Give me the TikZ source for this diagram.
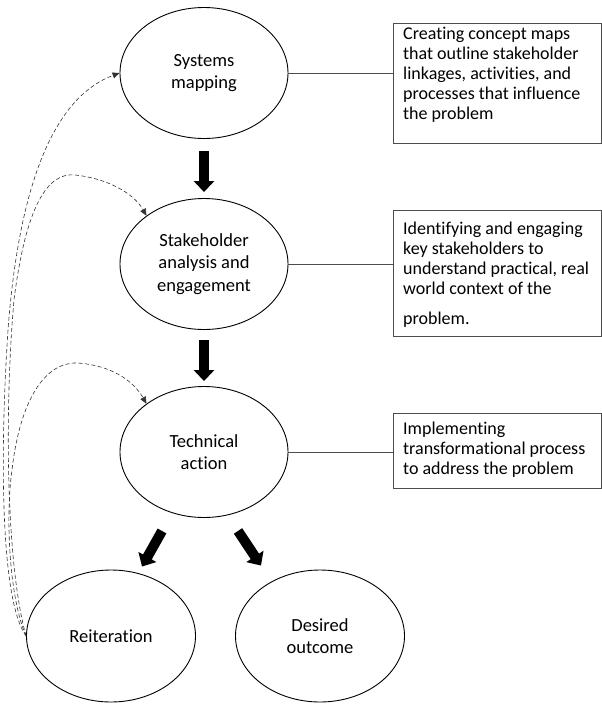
\documentclass[tikz,border=0pt]{standalone}
\usepackage{fontspec}
\setmainfont{Carlito}[Ligatures=NoCommon]
\usetikzlibrary{shapes.geometric,arrows.meta,calc}
\begin{document}
\begin{tikzpicture}[x=1pt,y=-1pt,
  stage/.style={ellipse,draw,line width=0.9pt,minimum width=168pt,minimum height=131pt,
    inner sep=0pt,align=center,font=\fontsize{18.5}{22.5}\selectfont},
  infobox/.style={draw=black!70,line width=0.8pt,anchor=north west,minimum width=208pt,inner sep=0pt},
  infotext/.style={anchor=north west,inner sep=0pt,align=left,font=\fontsize{18}{20}\selectfont},
  link/.style={draw=black!70,line width=0.8pt},
  flow/.style={line width=10pt,-{Triangle[width=20pt,length=11pt]}},
  loopback/.style={dash pattern=on 4pt off 2.5pt,line width=0.6pt,black!80,
    -{Triangle[width=6pt,length=7pt]}}]
\useasboundingbox (0,0) rectangle (602,705);

% process stages
\node[stage] (sm) at (204,73)  {Systems\\mapping};
\node[stage] (sa) at (204,264) {Stakeholder\\analysis and\\engagement};
\node[stage] (ta) at (204,452) {Technical\\action};
\node[stage,minimum width=169pt,minimum height=132pt] (re) at (111,636) {Reiteration};
\node[stage,minimum width=169pt,minimum height=132pt] (do) at (320,636) {Desired\\outcome};

% description boxes
\node[infobox,minimum height=120pt] (b1) at (393,23) {};
\node[infotext] (t1) at (403,27) {Creating concept maps\\that outline stakeholder\\linkages, activities, and\\processes that influence\\the problem};
\node[infobox,minimum height=126pt] (b2) at (393,210) {};
\node[infotext] (t2) at (403,222) {Identifying and engaging\\key stakeholders to\\understand practical, real\\world context of the\\[10pt]problem.};
\node[infobox,minimum height=75pt] (b3) at (393,413) {};
\node[infotext] (t3) at (403,422) {Implementing\\transformational process\\to address the problem};

% links from stages to their descriptions
\draw[link] (sm.east) -- (sm.east -| b1.west);
\draw[link] (sa.east) -- (sa.east -| b2.west);
\draw[link] (ta.east) -- (ta.east -| b3.west);

% main flow
\draw[flow] ([yshift=-12pt]sm.south) -- ([yshift=6pt]sa.north);
\draw[flow] ([yshift=-10pt]sa.south) -- ([yshift=5pt]ta.north);
\draw[flow] ([shift={(-42pt,-13pt)}]ta.south) -- ([shift={(31pt,3pt)}]re.north);
\draw[flow] ([shift={(34pt,-13pt)}]ta.south) -- ([shift={(-59pt,4pt)}]do.north);

% feedback loops from reiteration
\draw[loopback] (re.west) .. controls (0,600) and (0,450) .. (8,330)
  .. controls (20,170) and (60,95) .. (sm.west);
\draw[loopback] (re.west) .. controls (5,560) and (5,400) .. (14,300)
  .. controls (26,205) and (48,172) .. (75,175)
  .. controls (105,178) and (133,192) .. (sa.140);
\draw[loopback] (re.west) .. controls (10,600) and (5,520) .. (12,470)
  .. controls (20,400) and (45,362) .. (77,363)
  .. controls (110,365) and (133,380) .. (ta.140);
\end{tikzpicture}
\end{document}
